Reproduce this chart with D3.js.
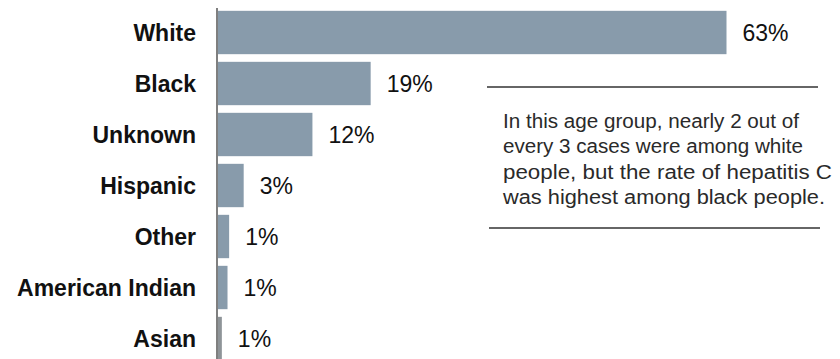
<!DOCTYPE html>
<html>
<head>
<meta charset="utf-8">
<script src="https://cdn.jsdelivr.net/npm/d3@7"></script>
<style>
  html, body { margin: 0; padding: 0; background: #fff; }
  #chart { width: 840px; height: 359px; }
</style>
</head>
<body>
<div id="chart"></div>
<script>
const categorias = ["White", "Black", "Unknown", "Hispanic", "Other", "American Indian", "Asian"];
const valores = [63, 19, 11.8, 3.3, 1.5, 1.3, 0.6];
const etiquetas = ["63%", "19%", "12%", "3%", "1%", "1%", "1%"];
const nota = [
  "In this age group, nearly 2 out of",
  "every 3 cases were among white",
  "people, but the rate of hepatitis C",
  "was highest among black people."
];

const width = 840, height = 359;
const margin = { top: 7, left: 217 };
const svg = d3.select("#chart").append("svg").attr("width", width).attr("height", height);

const xScale = d3.scaleLinear().domain([0, 63]).range([margin.left, 726.5]);
const yScale = d3.scaleBand().domain(categorias).range([margin.top, margin.top + 51 * categorias.length]).paddingInner(0.15).paddingOuter(0.075);

svg.selectAll("rect.barra").data(categorias).join("rect").attr("class", "barra")
  .attr("x", margin.left + 1).attr("y", (d) => yScale(d))
  .attr("width", (d, i) => xScale(valores[i]) - margin.left - 1)
  .attr("height", yScale.bandwidth())
  .attr("fill", (d, i) => i === 6 ? "#8e9498" : "#889bab");

svg.append("line").attr("x1", margin.left).attr("x2", margin.left).attr("y1", 8).attr("y2", height)
  .attr("stroke", "#555").attr("stroke-width", 1.5);

svg.selectAll("text.cat").data(categorias).join("text").attr("class", "cat")
  .attr("x", 196).attr("y", (d) => yScale(d) + yScale.bandwidth() / 2)
  .attr("dy", "0.36em").attr("text-anchor", "end")
  .attr("font-family", "Liberation Sans, Arial, sans-serif").attr("font-weight", "bold").attr("font-size", 23)
  .attr("fill", "#111").text((d) => d);

svg.selectAll("text.valor").data(categorias).join("text").attr("class", "valor")
  .attr("x", (d, i) => xScale(valores[i]) + 16).attr("y", (d) => yScale(d) + yScale.bandwidth() / 2)
  .attr("dy", "0.36em")
  .attr("font-family", "Liberation Sans, Arial, sans-serif").attr("font-size", 23)
  .attr("fill", "#111").text((d, i) => etiquetas[i]);

svg.append("line").attr("x1", 487).attr("x2", 818).attr("y1", 87).attr("y2", 87).attr("stroke", "#333").attr("stroke-width", 1.3);
svg.append("line").attr("x1", 489).attr("x2", 820).attr("y1", 228).attr("y2", 228).attr("stroke", "#333").attr("stroke-width", 1.3);

const anchos = [296, 300, 329, 322];
svg.selectAll("text.nota").data(nota).join("text").attr("class", "nota")
  .attr("x", 503).attr("y", (d, i) => 128 + i * 25.3)
  .attr("font-family", "Liberation Sans, Arial, sans-serif").attr("font-size", 20)
  .attr("fill", "#2a2a2a")
  .attr("textLength", (d, i) => anchos[i]).attr("lengthAdjust", "spacingAndGlyphs")
  .text((d) => d);
</script>
</body>
</html>
